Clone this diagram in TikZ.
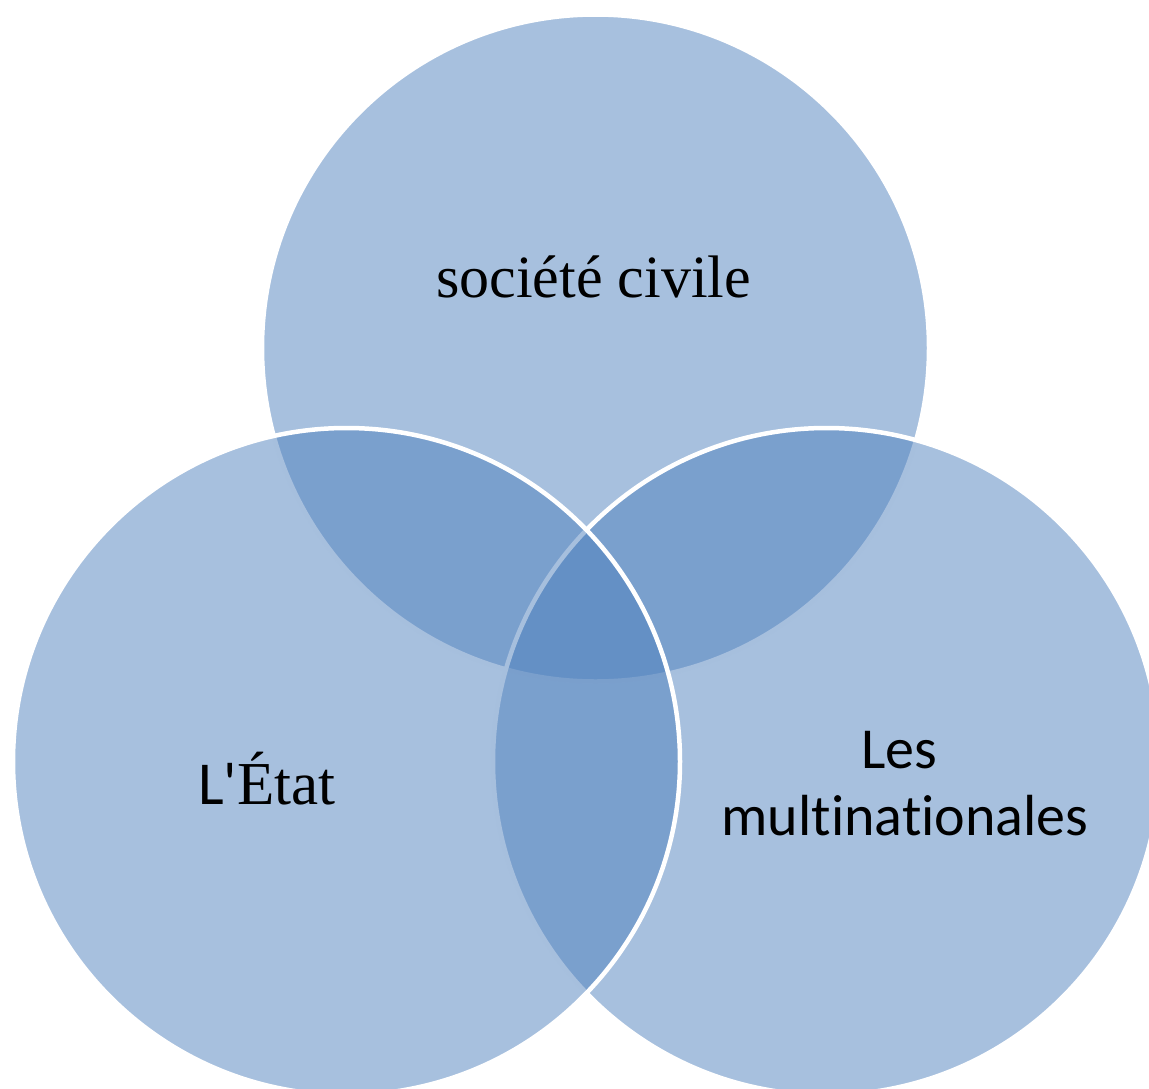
\documentclass[tikz,border=0pt]{standalone}
\usepackage{fontspec}
\setmainfont{Liberation Serif}
\newfontfamily\calibri[Ligatures={NoCommon}]{Carlito}
\definecolor{vennblue}{RGB}{79,129,189}
\begin{document}
\begin{tikzpicture}[x=1pt,y=-1pt,
  venn/.style={circle, minimum size=667pt, inner sep=0pt, fill=vennblue, fill opacity=0.5, draw=white, draw opacity=1, line width=4.5pt},
  lbl/.style={text=black, inner sep=0pt, anchor=base}]
\useasboundingbox (0,0) rectangle (1149,1088);
\clip (0,0) rectangle (1149,1088);
\node[venn] (top) at (595.5,348) {};
\node[venn] (right) at (826.5,761.5) {};
\node[venn] (left) at (346.5,761.5) {};
\node[lbl, font=\fontsize{60}{66}\selectfont] (tlabel) at (593.5,297) {société civile};
\node[lbl, font=\fontsize{61}{66}\selectfont] (llabel) at (267,804) {{\calibri L'}État};
\node[lbl, font=\calibri\fontsize{58}{66}\selectfont] (rlabel1) at (899,768) {Les};
\node[lbl, font=\calibri\fontsize{58}{66}\selectfont] (rlabel2) at (905,835) {multinationales};
\end{tikzpicture}
\end{document}
